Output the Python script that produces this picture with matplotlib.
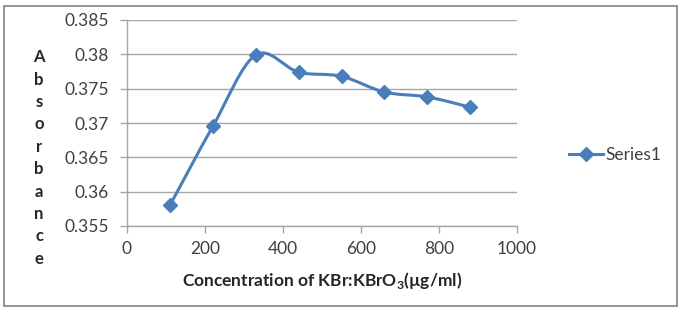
import matplotlib
matplotlib.use('Agg')
import matplotlib.pyplot as plt
from matplotlib.path import Path
from matplotlib.patches import PathPatch, Rectangle
from matplotlib.lines import Line2D
import numpy as np

# values
conc = [110, 220, 330, 440, 550, 660, 770, 880]
absorbance = [0.3580, 0.3695, 0.3799, 0.3774, 0.3768, 0.3745, 0.3738, 0.3723]
series_name = 'Series1'
x_ticks = [0, 200, 400, 600, 800, 1000]
y_ticks = [0.355, 0.36, 0.365, 0.37, 0.375, 0.38, 0.385]
y_ticklabels = ['0.355', '0.36', '0.365', '0.37', '0.375', '0.38', '0.385']

BLUE = '#4a7ebb'
FONT = 'Lato'

plt.rcParams['font.family'] = [FONT, 'DejaVu Sans']
plt.rcParams['mathtext.fontset'] = 'custom'
plt.rcParams['mathtext.rm'] = FONT
plt.rcParams['mathtext.bf'] = FONT + ':bold'


def smooth_path(xs, ys, t=1 / 6):
    # Excel-like smoothed line: Catmull-Rom control points as cubic Beziers
    xs = np.asarray(xs, float)
    ys = np.asarray(ys, float)
    n = len(xs)
    verts = [(xs[0], ys[0])]
    codes = [Path.MOVETO]
    for i in range(n - 1):
        p0 = i - 1 if i > 0 else i
        p3 = i + 2 if i + 2 < n else i + 1
        c1 = (xs[i] + (xs[i + 1] - xs[p0]) * t, ys[i] + (ys[i + 1] - ys[p0]) * t)
        c2 = (xs[i + 1] - (xs[p3] - xs[i]) * t, ys[i + 1] - (ys[p3] - ys[i]) * t)
        verts += [c1, c2, (xs[i + 1], ys[i + 1])]
        codes += [Path.CURVE4] * 3
    return Path(verts, codes)


fig = plt.figure(figsize=(6.82, 3.12), dpi=100)
fig.patches.append(Rectangle((4 / 682, 6 / 312), 673 / 682, 300 / 312,
                             transform=fig.transFigure, fill=False,
                             edgecolor='#8c8c8c', linewidth=1.3))

ax = fig.add_axes([127 / 682, 1 - 226 / 312, 390 / 682, 206 / 312])
ax.set_xlim(0, 1000)
ax.set_ylim(0.355, 0.385)

ax.add_patch(PathPatch(smooth_path(conc, absorbance), fill=False,
                       edgecolor=BLUE, linewidth=2.2, capstyle='round',
                       joinstyle='round', zorder=3))
ax.plot(conc, absorbance, linestyle='none', marker='D', markersize=7,
        color=BLUE, zorder=4)

ax.set_xticks(x_ticks)
ax.set_yticks(y_ticks)
ax.set_yticklabels(y_ticklabels)
ax.yaxis.grid(True, color='#a6a6a6', linewidth=1.0)
ax.set_axisbelow(True)
for side in ('top', 'right'):
    ax.spines[side].set_visible(False)
for side in ('left', 'bottom'):
    ax.spines[side].set_color('#a6a6a6')
    ax.spines[side].set_linewidth(1.0)
ax.tick_params(axis='both', colors='#a6a6a6', labelcolor='#404040',
               labelsize=12.5, length=5, width=1.0)
ax.tick_params(axis='x', pad=6)
ax.tick_params(axis='y', pad=8)

ax.set_xlabel(r'Concentration of KBr:KBrO$_{\mathbf{3}}$(µg/ml)',
              fontsize=12.5, fontweight='bold', color='#262626', labelpad=9)

fig.text(39 / 682, 1 - 158 / 312, '\n'.join('Absorbance'), ha='center',
         va='center', fontsize=12, fontweight='bold', color='#262626',
         linespacing=1.49)

handle = Line2D([], [], color=BLUE, linewidth=2.2, marker='D', markersize=7)
fig.legend([handle], [series_name], loc='center left',
           bbox_to_anchor=(553 / 682, 1 - 155 / 312), frameon=False,
           fontsize=12.5, handlelength=2.0, handletextpad=0.1,
           labelcolor='#404040')

fig.savefig('out.png', dpi=100)
